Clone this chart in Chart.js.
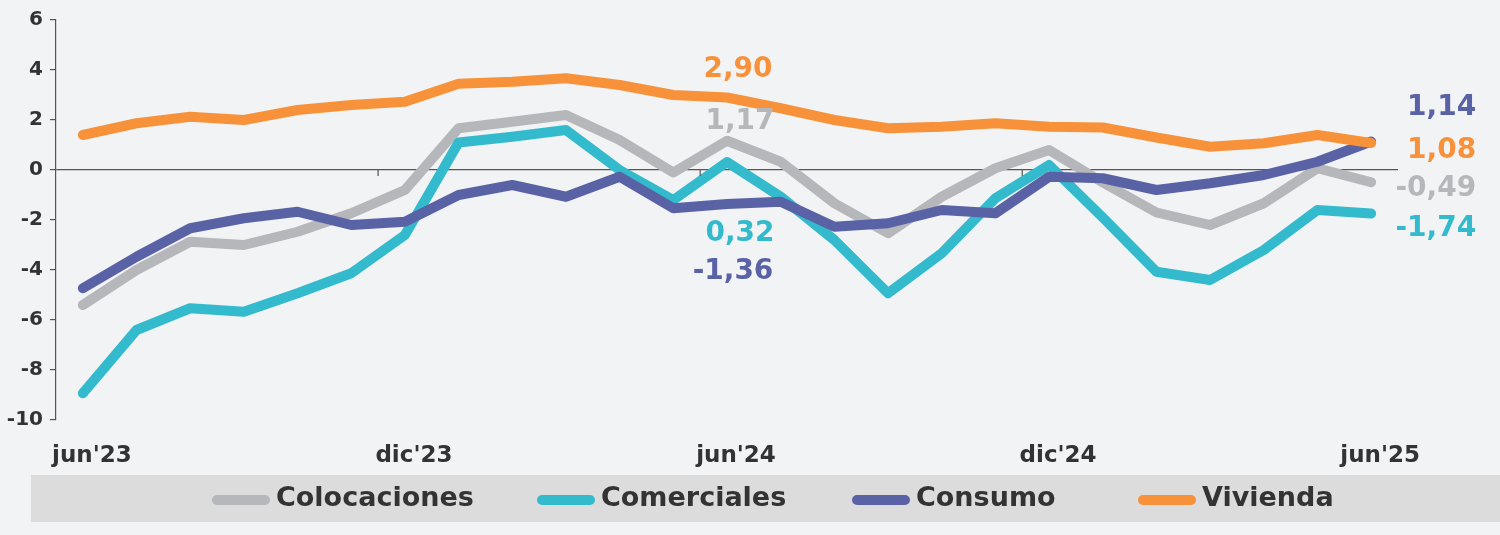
<!DOCTYPE html>
<html lang="es">
<head>
<meta charset="utf-8">
<title>Colocaciones</title>
<script src="https://cdn.jsdelivr.net/npm/chart.js@4.4.0/dist/chart.umd.min.js"></script>
<style>
    html, body { margin: 0; padding: 0; background: #f2f3f5; }
    #wrap { width: 1500px; height: 535px; }
</style>
</head>
<body>
<div id="wrap"><canvas id="chart" width="1500" height="535"></canvas></div>
<script>
// Months jun'23 .. jun'25
const months = [
    "jun'23", "jul'23", "ago'23", "sep'23", "oct'23", "nov'23", "dic'23",
    "ene'24", "feb'24", "mar'24", "abr'24", "may'24", "jun'24",
    "jul'24", "ago'24", "sep'24", "oct'24", "nov'24", "dic'24",
    "ene'25", "feb'25", "mar'25", "abr'25", "may'25", "jun'25"
];

const colocaciones = [-5.4, -4.0, -2.87, -3.0, -2.47, -1.73, -0.8, 1.67, 1.93, 2.2, 1.2, -0.1, 1.17,
    0.33, -1.33, -2.53, -1.07, 0.07, 0.8, -0.5, -1.7, -2.2, -1.33, 0.07, -0.49];
const comerciales = [-8.93, -6.4, -5.53, -5.67, -4.93, -4.13, -2.6, 1.1, 1.33, 1.6, 0.0, -1.2, 0.32,
    -1.07, -2.8, -4.93, -3.33, -1.13, 0.2, -1.9, -4.07, -4.4, -3.2, -1.6, -1.74];
const consumo = [-4.73, -3.47, -2.33, -1.93, -1.67, -2.2, -2.07, -1.0, -0.6, -1.07, -0.27, -1.53, -1.36,
    -1.27, -2.27, -2.13, -1.6, -1.73, -0.27, -0.33, -0.8, -0.53, -0.2, 0.33, 1.14];
const vivienda = [1.4, 1.87, 2.13, 2.0, 2.4, 2.6, 2.73, 3.45, 3.53, 3.67, 3.4, 3.0, 2.90,
    2.47, 2.0, 1.67, 1.73, 1.87, 1.73, 1.7, 1.3, 0.93, 1.07, 1.4, 1.08];

const yTicks = [6, 4, 2, 0, -2, -4, -6, -8, -10];

const FONT = "'DejaVu Sans', sans-serif";
const TEXT = '#333333';
const colors = {
    colocaciones: '#b6b7ba',
    comerciales: '#33bbcd',
    consumo: '#5a62a6',
    vivienda: '#f7923a'
};

// labels written on the lines: [dataset, index, text, dx, dy, align]
const valueLabels = [
    [3, 12, '2,90', 11, -28, 'center'],
    [0, 12, '1,17', 13, -19, 'center'],
    [1, 12, '0,32', 13, 72, 'center'],
    [2, 12, '-1,36', 6, 68, 'center'],
    [2, 24, '1,14', 105, -34, 'right'],
    [3, 24, '1,08', 105, 8, 'right'],
    [0, 24, '-0,49', 105, 6, 'right'],
    [1, 24, '-1,74', 105, 15, 'right']
];

const legendSlots = [212, 537, 852, 1138];

const valueLabelPlugin = {
    id: 'valueLabels',
    afterDatasetsDraw(chart) {
        const ctx = chart.ctx;
        ctx.save();
        ctx.font = 'bold 28px ' + FONT;
        ctx.textBaseline = 'middle';
        valueLabels.forEach(([ds, idx, text, dx, dy, align]) => {
            const pt = chart.getDatasetMeta(ds).data[idx];
            ctx.fillStyle = chart.data.datasets[ds].borderColor;
            ctx.textAlign = align;
            ctx.fillText(text, pt.x + dx, pt.y + dy);
        });
        ctx.restore();
    }
};

const zeroTicksPlugin = {
    id: 'zeroTicks',
    afterDraw(chart) {
        const x = chart.scales.x;
        const y0 = chart.scales.y.getPixelForValue(0);
        const ctx = chart.ctx;
        ctx.save();
        ctx.strokeStyle = '#555';
        ctx.lineWidth = 1.2;
        [6, 12, 18].forEach(i => {
            const px = (x.getPixelForValue(i - 1) + x.getPixelForValue(i)) / 2;
            ctx.beginPath();
            ctx.moveTo(px, y0);
            ctx.lineTo(px, y0 + 6);
            ctx.stroke();
        });
        ctx.restore();
    }
};

const legendBoxPlugin = {
    id: 'legendBox',
    afterDraw(chart) {
        const ctx = chart.ctx;
        ctx.save();
        ctx.fillStyle = '#dcdcdd';
        ctx.fillRect(31, 475, 1469, 47);
        ctx.font = 'bold 27px ' + FONT;
        ctx.textBaseline = 'middle';
        ctx.textAlign = 'left';
        chart.data.datasets.forEach((ds, i) => {
            const x0 = legendSlots[i];
            ctx.strokeStyle = ds.borderColor;
            ctx.lineWidth = 10;
            ctx.lineCap = 'round';
            ctx.beginPath();
            ctx.moveTo(x0 + 5, 500);
            ctx.lineTo(x0 + 53, 500);
            ctx.stroke();
            ctx.fillStyle = TEXT;
            ctx.fillText(ds.label, x0 + 64, 499);
        });
        ctx.restore();
    }
};

function series(label, data, color, order) {
    return {
        label: label,
        data: data,
        borderColor: color,
        backgroundColor: color,
        borderWidth: 10,
        pointRadius: 0,
        tension: 0,
        borderJoinStyle: 'round',
        borderCapStyle: 'round',
        order: order
    };
}

new Chart(document.getElementById('chart'), {
    type: 'line',
    data: {
        labels: months,
        datasets: [
            series('Colocaciones', colocaciones, colors.colocaciones, 4),
            series('Comerciales', comerciales, colors.comerciales, 3),
            series('Consumo', consumo, colors.consumo, 2),
            series('Vivienda', vivienda, colors.vivienda, 1)
        ]
    },
    options: {
        responsive: false,
        animation: false,
        layout: { padding: { top: 20, right: 102, bottom: 65, left: 0 } },
        plugins: {
            legend: { display: false },
            tooltip: { enabled: false }
        },
        scales: {
            x: {
                offset: true,
                grid: { display: false },
                border: { display: false },
                afterFit: s => { s.height = 50; },
                ticks: {
                    autoSkip: false,
                    maxRotation: 0,
                    padding: 14,
                    labelOffset: 9,
                    color: TEXT,
                    font: { family: FONT, size: 23, weight: 'bold' },
                    callback: (v, i) => (i % 6 === 0 ? months[i] : '')
                }
            },
            y: {
                min: -10,
                max: 6,
                afterFit: s => { s.width = 56; },
                afterBuildTicks: s => { s.ticks = yTicks.map(v => ({ value: v })); },
                border: { display: true, color: '#555', width: 1.2 },
                grid: {
                    color: c => (c.tick && c.tick.value === 0 ? '#555' : 'rgba(0,0,0,0)'),
                    lineWidth: 1.2,
                    tickColor: '#555',
                    tickLength: 6
                },
                ticks: {
                    padding: 7,
                    color: TEXT,
                    font: { family: FONT, size: 20, weight: 'bold' }
                }
            }
        }
    },
    plugins: [valueLabelPlugin, zeroTicksPlugin, legendBoxPlugin]
});
</script>
</body>
</html>
